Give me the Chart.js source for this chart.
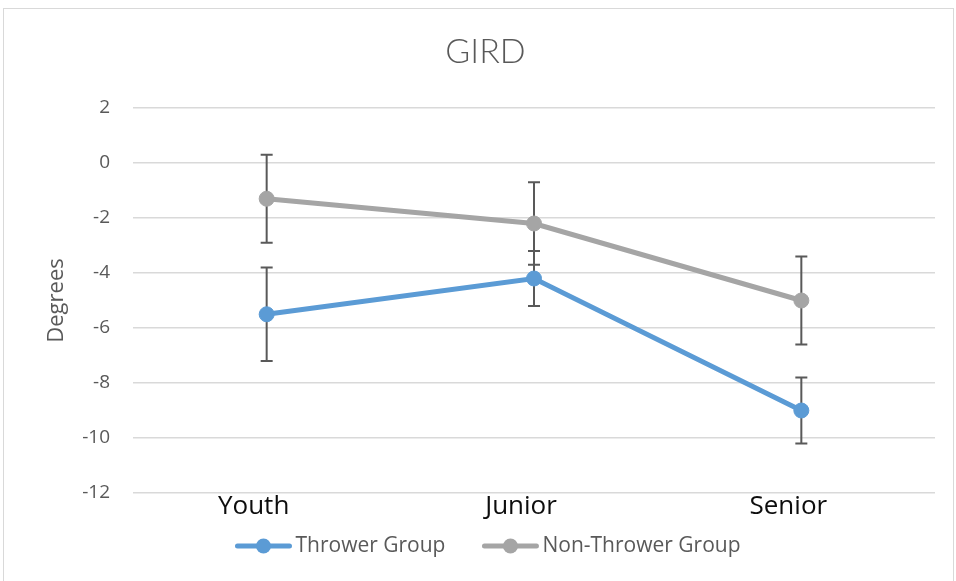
<!DOCTYPE html>
<html><head><meta charset="utf-8">
<script src="https://cdn.jsdelivr.net/npm/chart.js@4/dist/chart.umd.min.js"></script>
<style>
html,body{margin:0;padding:0;background:#fff;}
#wrap{position:relative;width:956px;height:581px;overflow:hidden;background:#fff;}
#frame{position:absolute;left:3px;top:8px;width:949px;height:600px;border:1px solid #d9d9d9;}
canvas{position:absolute;left:0;top:0;}
</style></head><body>
<div id="wrap"><div id="frame"></div><canvas id="c" width="956" height="581"></canvas></div>
<script>
const categories = ['Youth', 'Junior', 'Senior'];
const throwerValues = [-5.5, -4.2, -9.0];
const throwerErrors = [1.7, 1.0, 1.2];
const nonThrowerValues = [-1.3, -2.2, -5.0];
const nonThrowerErrors = [1.6, 1.5, 1.6];
const yTicks = [2, 0, -2, -4, -6, -8, -10, -12];
const seriesNames = ['Thrower Group', 'Non-Thrower Group'];
const seriesColors = ['#5B9BD5', '#A5A5A5'];

const errorBars = {
  id: 'errorBars',
  beforeDatasetsDraw(chart) {
    const ctx = chart.ctx;
    const ys = chart.scales.y;
    chart.data.datasets.forEach((ds, i) => {
      const meta = chart.getDatasetMeta(i);
      ds.errors.forEach((e, j) => {
        const pt = meta.data[j];
        const v = ds.data[j];
        const x = pt.x;
        const yt = ys.getPixelForValue(v + e);
        const yb = ys.getPixelForValue(v - e);
        ctx.save();
        ctx.strokeStyle = '#595959';
        ctx.lineWidth = 2;
        ctx.beginPath();
        ctx.moveTo(x, yt); ctx.lineTo(x, yb);
        ctx.moveTo(x - 6, yt); ctx.lineTo(x + 6, yt);
        ctx.moveTo(x - 6, yb); ctx.lineTo(x + 6, yb);
        ctx.stroke();
        ctx.restore();
      });
    });
  }
};

const lineLegend = {
  id: 'lineLegend',
  afterDraw(chart) {
    const ctx = chart.ctx;
    const font = '21px "Open Sans"';
    const lineLen = 56, textGap = 4, itemGap = 37;
    const cy = 546, centerX = 488;
    ctx.save();
    ctx.font = font;
    const items = chart.data.datasets.map(ds => ({ text: ds.label, color: ds.borderColor, w: ctx.measureText(ds.label).width }));
    let total = 0;
    items.forEach((it, i) => { total += lineLen + textGap + it.w + (i ? itemGap : 0); });
    let x = centerX - total / 2;
    items.forEach((it, i) => {
      if (i) x += itemGap;
      ctx.strokeStyle = it.color; ctx.lineWidth = 5; ctx.lineCap = 'round';
      ctx.beginPath(); ctx.moveTo(x + 2, cy); ctx.lineTo(x + lineLen - 2, cy); ctx.stroke();
      ctx.fillStyle = it.color;
      ctx.beginPath(); ctx.arc(x + lineLen / 2, cy, 7.5, 0, Math.PI * 2); ctx.fill();
      x += lineLen + textGap;
      ctx.fillStyle = '#595959'; ctx.textAlign = 'left'; ctx.textBaseline = 'middle';
      ctx.fillText(it.text, x, cy);
      x += it.w;
    });
    ctx.restore();
  }
};

new Chart(document.getElementById('c'), {
  type: 'line',
  data: {
    labels: categories,
    datasets: [
      { label: seriesNames[0], data: throwerValues, errors: throwerErrors,
        borderColor: seriesColors[0], backgroundColor: seriesColors[0],
        pointBackgroundColor: seriesColors[0], pointBorderColor: seriesColors[0],
        borderWidth: 5, pointRadius: 7.5, pointBorderWidth: 1, tension: 0, borderCapStyle: 'round' },
      { label: seriesNames[1], data: nonThrowerValues, errors: nonThrowerErrors,
        borderColor: seriesColors[1], backgroundColor: seriesColors[1],
        pointBackgroundColor: seriesColors[1], pointBorderColor: seriesColors[1],
        borderWidth: 5, pointRadius: 7.5, pointBorderWidth: 1, tension: 0, borderCapStyle: 'round' }
    ]
  },
  options: {
    responsive: false,
    animation: false,
    devicePixelRatio: 1,
    layout: { padding: { top: 0, left: 18, right: 3, bottom: 56 } },
    plugins: {
      title: {
        display: true, text: 'GIRD', color: '#595959',
        font: { family: 'Lato', size: 34, weight: '300', lineHeight: 1.2 },
        padding: { top: 31.6, bottom: 35.6 }
      },
      legend: { display: false },
      tooltip: { enabled: false }
    },
    scales: {
      x: {
        offset: true,
        grid: { display: false, drawTicks: false },
        border: { display: false },
        ticks: { color: '#0d0d0d', font: { family: 'Open Sans', size: 26 }, padding: -2, maxRotation: 0, labelOffset: -13 },
        afterFit(s) { s.height = 32; }
      },
      y: {
        min: -12, max: 2,
        afterBuildTicks(s) { s.ticks = yTicks.map(v => ({ value: v })); },
        grid: { color: '#d9d9d9', lineWidth: 1.5, drawTicks: false },
        border: { display: false },
        ticks: { color: '#595959', font: { family: 'Open Sans', size: 19 }, padding: 23 },
        title: { display: true, text: 'Degrees', color: '#595959',
                 font: { family: 'Open Sans', size: 22 }, padding: { top: 26, bottom: 0 } },
        afterFit(s) { s.width = 115; }
      },
      y2: {
        type: 'linear', position: 'right', display: true,
        grid: { display: false, drawTicks: false },
        border: { display: false },
        ticks: { display: false },
        afterFit(s) { s.width = 18; }
      }
    }
  },
  plugins: [errorBars, lineLegend]
});
</script>
</body></html>
